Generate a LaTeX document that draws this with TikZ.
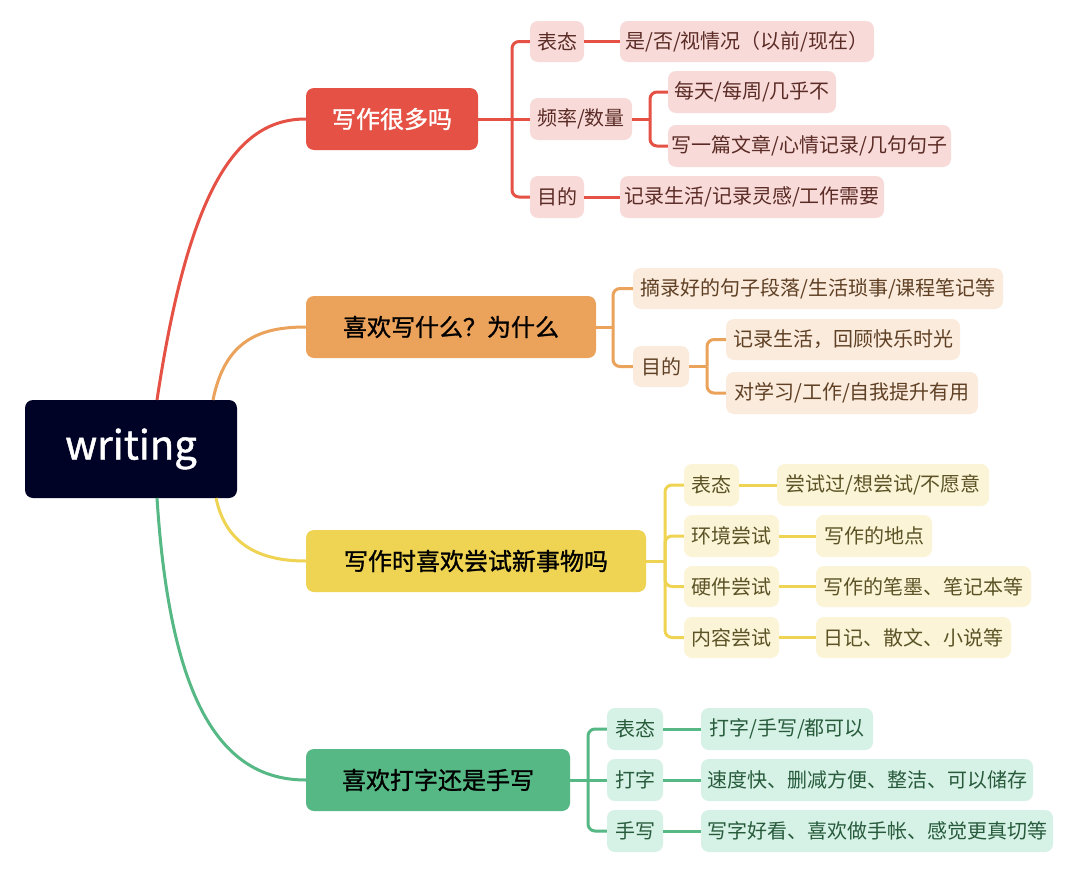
\documentclass[tikz,border=0pt]{standalone}
\usepackage{fontspec}
\setmainfont{Noto Sans CJK SC}
\newfontfamily\medfont[FakeBold=1.2]{Noto Sans CJK SC}
\definecolor{rootc}{HTML}{010326}
\definecolor{rmain}{HTML}{E65145}
\definecolor{omain}{HTML}{EBA25B}
\definecolor{ymain}{HTML}{EFD352}
\definecolor{gmain}{HTML}{56B884}
\definecolor{rlight}{HTML}{F8DBD9}
\definecolor{olight}{HTML}{FBEBDD}
\definecolor{ylight}{HTML}{FCF4D6}
\definecolor{glight}{HTML}{D6F1E5}
\definecolor{rtext}{HTML}{5B2B25}
\definecolor{otext}{HTML}{5F4024}
\definecolor{ytext}{HTML}{5B5326}
\definecolor{gtext}{HTML}{275B3C}
\begin{document}
\begin{tikzpicture}[x=1pt,y=-1pt,
  mainbox/.style={rounded corners=8pt, minimum height=62pt, inner sep=0pt, font=\medfont\fontsize{24}{28}\selectfont},
  subbox/.style={rounded corners=8pt, minimum height=42pt, inner sep=0pt, font=\fontsize{20}{24}\selectfont},
  rsub/.style={subbox, fill=rlight, text=rtext},
  osub/.style={subbox, fill=olight, text=otext},
  ysub/.style={subbox, fill=ylight, text=ytext},
  gsub/.style={subbox, fill=glight, text=gtext},
  rline/.style={draw=rmain, line width=3pt},
  oline/.style={draw=omain, line width=3pt},
  yline/.style={draw=ymain, line width=3pt},
  gline/.style={draw=gmain, line width=3pt},
  brk/.style={rounded corners=7pt}]
\useasboundingbox (0,0) rectangle (1080,870);
\fill[white] (0,0) rectangle (1080,870);

% root
\node[rounded corners=8pt, fill=rootc, text=white, minimum width=212pt, minimum height=98pt, inner sep=0pt,
  font=\medfont\fontsize{40}{48}\selectfont] (root) at (131,449) {writing};
\coordinate (rt1) at (157,400);
\coordinate (rt2) at (213,400);
\coordinate (rb1) at (216,498);
\coordinate (rb2) at (157,498);

% main nodes
\node[mainbox, fill=rmain, text=white, minimum width=172pt] (r) at (392,119) {写作很多吗};
\node[mainbox, fill=omain, text=black, minimum width=290pt] (o) at (451,327) {喜欢写什么？为什么};
\node[mainbox, fill=ymain, text=black, minimum width=340pt] (y) at (476,561) {写作时喜欢尝试新事物吗};
\node[mainbox, fill=gmain, text=black, minimum width=264pt] (g) at (438,780) {喜欢打字还是手写};

\draw[rline] (rt1) .. controls (190,180) and (240,119) .. (r.west);
\draw[oline] (rt2) .. controls (225,340) and (260,327) .. (o.west);
\draw[yline] (rb1) .. controls (226,545) and (260,561) .. (y.west);
\draw[gline] (rb2) .. controls (170,700) and (220,780) .. (g.west);

% red subtree
\node[rsub, minimum width=54pt, minimum height=41pt] (r1) at (557,41.5) {表态};
\node[rsub, minimum width=102pt] (r2) at (581,119) {频率/数量};
\node[rsub, minimum width=54pt] (r3) at (557,197) {目的};
\node[rsub, minimum width=254pt, minimum height=41pt] (r1a) at (747,41.5) {是/否/视情况（以前/现在）};
\node[rsub, minimum width=168pt] (r2a) at (752,92) {每天/每周/几乎不};
\node[rsub, minimum width=283pt] (r2b) at (809.5,146) {写一篇文章/心情记录/几句句子};
\node[rsub, minimum width=264pt] (r3a) at (752,197) {记录生活/记录灵感/工作需要};
\coordinate (rj) at (512,119);
\coordinate (rj2) at (650,119);
\draw[rline] (r.east) -- (rj);
\draw[rline, brk] (rj) |- (r1.west);
\draw[rline] (rj) -- (r2.west);
\draw[rline, brk] (rj) |- (r3.west);
\draw[rline] (r1.east) -- (r1a.west);
\draw[rline] (r3.east) -- (r3a.west);
\draw[rline] (r2.east) -- (rj2);
\draw[rline, brk] (rj2) |- (r2a.west);
\draw[rline, brk] (rj2) |- (r2b.west);

% orange subtree
\node[osub, minimum width=370pt, minimum height=41pt] (o1) at (818,288.5) {摘录好的句子段落/生活琐事/课程笔记等};
\node[osub, minimum width=56pt, minimum height=41pt] (o2) at (661,366.5) {目的};
\node[osub, minimum width=234pt, minimum height=41pt] (o2a) at (843,339.5) {记录生活，回顾快乐时光};
\node[osub, minimum width=252pt] (o2b) at (852,393) {对学习/工作/自我提升有用};
\coordinate (oj) at (613,327);
\coordinate (oj2) at (707,366.5);
\draw[oline] (o.east) -- (oj);
\draw[oline, brk] (oj) |- (o1.west);
\draw[oline, brk] (oj) |- (o2.west);
\draw[oline] (o2.east) -- (oj2);
\draw[oline, brk] (oj2) |- (o2a.west);
\draw[oline, brk] (oj2) |- (o2b.west);

% yellow subtree
\node[ysub, minimum width=55pt] (y1) at (711.5,485) {表态};
\node[ysub, minimum width=95pt] (y2) at (731.5,536) {环境尝试};
\node[ysub, minimum width=95pt, minimum height=41pt] (y3) at (731.5,586.5) {硬件尝试};
\node[ysub, minimum width=95pt, minimum height=41pt] (y4) at (731.5,637.5) {内容尝试};
\node[ysub, minimum width=212pt] (y1a) at (883,485) {尝试过/想尝试/不愿意};
\node[ysub, minimum width=116pt] (y2a) at (874,536) {写作的地点};
\node[ysub, minimum width=215pt, minimum height=41pt] (y3a) at (923.5,586.5) {写作的笔墨、笔记本等};
\node[ysub, minimum width=195pt, minimum height=41pt] (y4a) at (913.5,637.5) {日记、散文、小说等};
\coordinate (yj) at (665,561);
\draw[yline] (y.east) -- (yj);
\draw[yline, brk] (yj) |- (y1.west);
\draw[yline, brk] (yj) |- (y2.west);
\draw[yline, brk] (yj) |- (y3.west);
\draw[yline, brk] (yj) |- (y4.west);
\draw[yline] (y1.east) -- (y1a.west);
\draw[yline] (y2.east) -- (y2a.west);
\draw[yline] (y3.east) -- (y3a.west);
\draw[yline] (y4.east) -- (y4a.west);

% green subtree
\node[gsub, minimum width=56pt] (g1) at (635,729) {表态};
\node[gsub, minimum width=56pt] (g2) at (635,780) {打字};
\node[gsub, minimum width=56pt] (g3) at (635,831) {手写};
\node[gsub, minimum width=172pt] (g1a) at (787,729) {打字/手写/都可以};
\node[gsub, minimum width=332pt] (g2a) at (867,780) {速度快、删减方便、整洁、可以储存};
\node[gsub, minimum width=352pt] (g3a) at (877,831) {写字好看、喜欢做手帐、感觉更真切等};
\coordinate (gj) at (588,780);
\draw[gline] (g.east) -- (gj);
\draw[gline, brk] (gj) |- (g1.west);
\draw[gline] (gj) -- (g2.west);
\draw[gline, brk] (gj) |- (g3.west);
\draw[gline] (g1.east) -- (g1a.west);
\draw[gline] (g2.east) -- (g2a.west);
\draw[gline] (g3.east) -- (g3a.west);
\end{tikzpicture}
\end{document}
